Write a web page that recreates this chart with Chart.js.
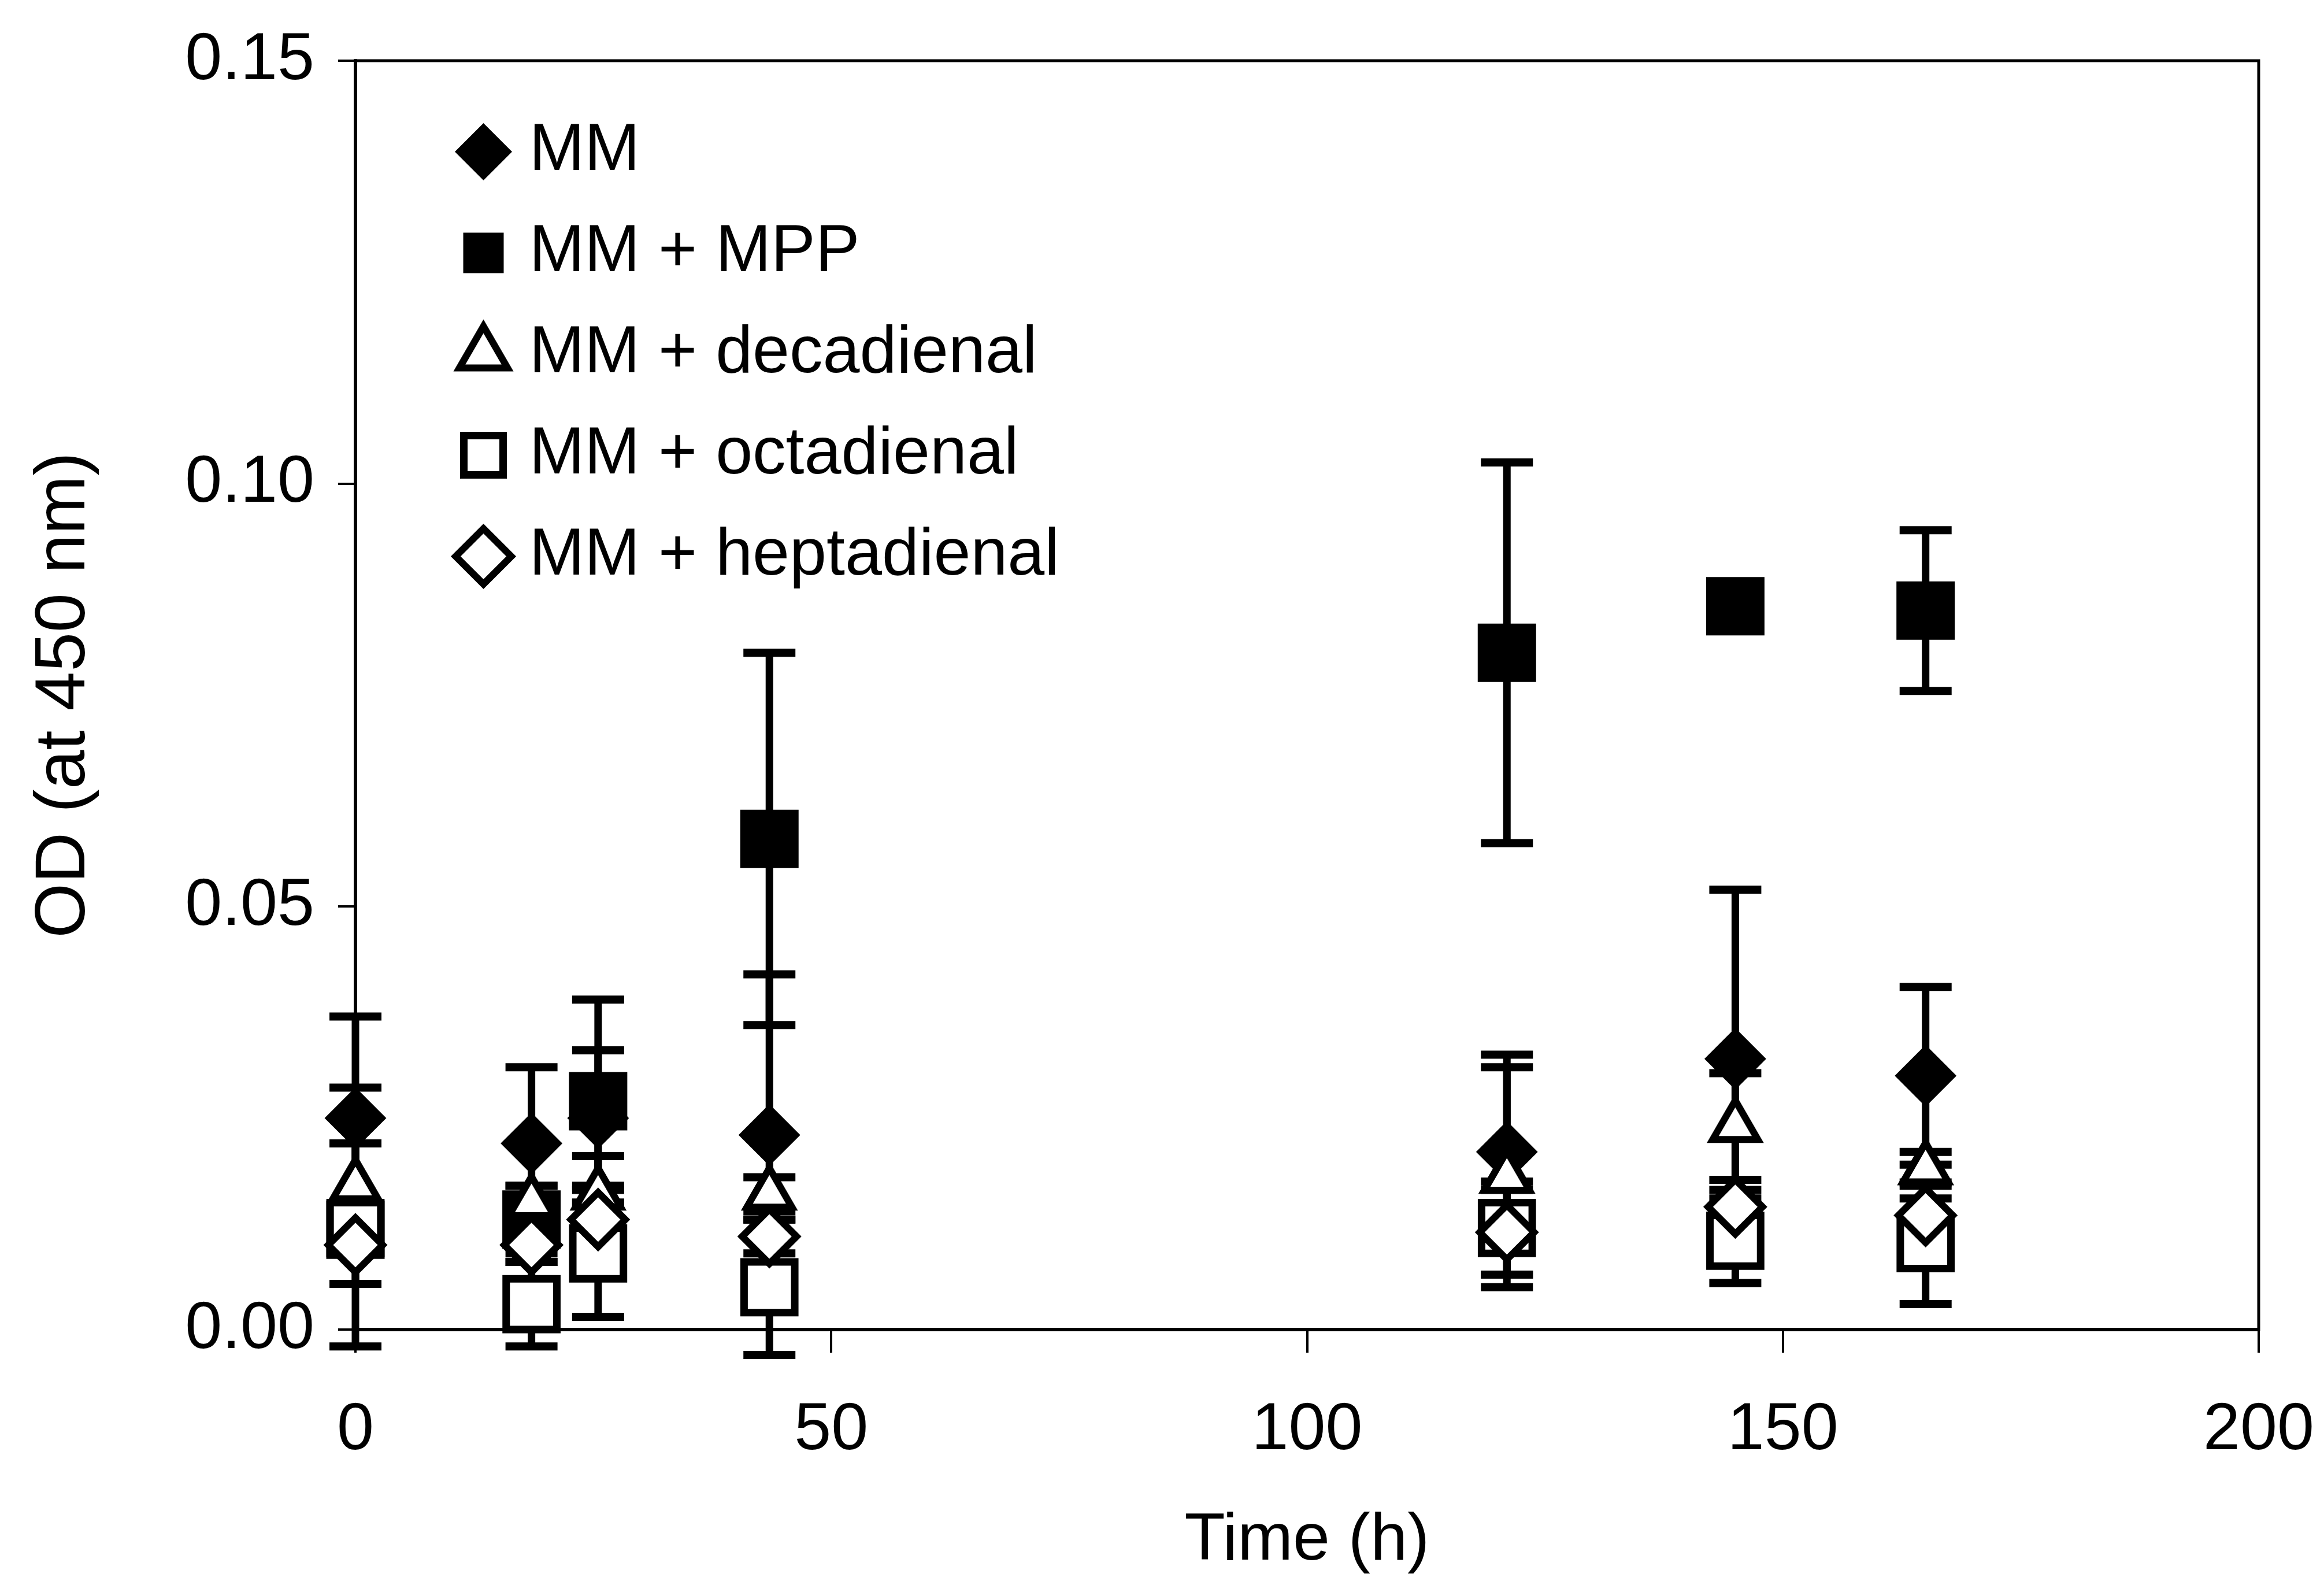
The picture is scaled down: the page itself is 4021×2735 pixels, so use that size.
<!DOCTYPE html>
<html lang="en">
<head>
<meta charset="UTF-8">
<title>OD (at 450 nm) over time</title>
<style>
  html, body { margin: 0; padding: 0; background: #fff; }
  #chart { display: block; }
</style>
</head>
<body>
<canvas id="chart" width="4021" height="2735"></canvas>
<script src="https://cdn.jsdelivr.net/npm/chart.js"></script>
<script>
// sampling times (h)
const times = [0, 18.5, 25.5, 43.5, 121, 145, 165];

// mean OD and error per medium
const mm        = [0.025, 0.022, 0.025, 0.023, 0.021, 0.032, 0.030];
const mmErr     = [0.012, 0.009, 0.008, 0.019, 0.0115, 0.020, 0.0105];
const mpp       = [0.0118, 0.013, 0.027, 0.058, 0.080, 0.0855, 0.085];
const mppErr    = [0.002, 0.004, 0.012, 0.022, 0.0225, 0.001, 0.0095];
const deca      = [0.017, 0.015, 0.016, 0.016, 0.018, 0.024, 0.019];
const decaErr   = [0.0116, 0.002, 0.0045, 0.002, 0.013, 0.0063, 0.002];
const octa      = [0.012, 0.003, 0.009, 0.005, 0.012, 0.0105, 0.0102];
const octaErr   = [0.003, 0.005, 0.0075, 0.008, 0.0055, 0.005, 0.0072];
const hepta     = [0.010, 0.010, 0.013, 0.011, 0.0115, 0.0145, 0.0135];
const heptaErr  = [0.012, 0.002, 0.002, 0.002, 0.005, 0.002, 0.002];

const seriesNames = ['MM', 'MM + MPP', 'MM + decadienal', 'MM + octadienal', 'MM + heptadienal'];
const yTicks = [0, 0.05, 0.10, 0.15];
const xTicks = [0, 50, 100, 150, 200];

const values = [mm, mpp, deca, octa, hepta];
const errors = [mmErr, mppErr, decaErr, octaErr, heptaErr];

// marker look for each series
const markers = [
  { style: 'rectRot',  radius: 52, fill: '#000', border: 2 },
  { style: 'rect',     radius: 70, fill: '#000', border: 2 },
  { style: 'triangle', radius: 45, fill: '#fff', border: 12 },
  { style: 'rect',     radius: 62, fill: '#fff', border: 13 },
  { style: 'rectRot',  radius: 47, fill: '#fff', border: 12 }
];

const FONT = 'Liberation Sans, Arial, sans-serif';

// error bars go under all markers, like the original plot
const errorBars = {
  id: 'errorBars',
  beforeDatasetsDraw(chart) {
    const { ctx, scales: { x, y } } = chart;
    ctx.save();
    ctx.strokeStyle = '#000';
    chart.data.datasets.forEach((ds, i) => {
      ds.data.forEach((p, j) => {
        const e = errors[i][j];
        if (!e) return;
        const px = x.getPixelForValue(p.x);
        const top = y.getPixelForValue(p.y + e);
        const bot = y.getPixelForValue(p.y - e);
        ctx.lineWidth = 13;
        ctx.beginPath();
        ctx.moveTo(px, top);
        ctx.lineTo(px, bot);
        ctx.stroke();
        ctx.lineWidth = 14;
        ctx.beginPath();
        ctx.moveTo(px - 45, top); ctx.lineTo(px + 45, top);
        ctx.moveTo(px - 45, bot); ctx.lineTo(px + 45, bot);
        ctx.stroke();
      });
    });
    // box round the plot
    const a = chart.chartArea;
    ctx.lineWidth = 5;
    ctx.strokeRect(a.left, a.top, a.right - a.left, a.bottom - a.top);
    ctx.restore();
  }
};

// move the legend to the upper left inside the plot
const legendPlace = {
  id: 'legendPlace',
  afterLayout(chart) {
    const lg = chart.legend;
    const a = chart.chartArea;
    lg.left = a.left + 140;
    lg.top = a.top + 40;
    lg.bottom = a.bottom;
    lg.right = a.right;
  }
};

const datasets = values.map((v, i) => ({
  label: seriesNames[i],
  data: times.map((t, j) => ({ x: t, y: v[j] })),
  pointStyle: markers[i].style,
  pointRadius: markers[i].radius,
  pointHoverRadius: markers[i].radius,
  backgroundColor: markers[i].fill,
  borderColor: '#000',
  pointBorderWidth: markers[i].border,
  borderWidth: markers[i].border,
  showLine: false,
  clip: false,
  order: values.length - i
}));

new Chart(document.getElementById('chart'), {
  type: 'scatter',
  data: { datasets },
  plugins: [errorBars, legendPlace],
  options: {
    responsive: false,
    animation: false,
    layout: { padding: { top: 105, right: 113, left: 0, bottom: 0 } },
    plugins: {
      tooltip: { enabled: false },
      legend: {
        position: 'chartArea',
        align: 'start',
        labels: {
          usePointStyle: true,
          boxWidth: 43,
          boxHeight: 68,
          padding: 60,
          color: '#000',
          font: { family: FONT, size: 115 },
          sort: (a, b) => a.datasetIndex - b.datasetIndex
        }
      }
    },
    scales: {
      x: {
        type: 'linear',
        min: xTicks[0],
        max: xTicks[xTicks.length - 1],
        afterBuildTicks(s) { s.ticks = xTicks.map(v => ({ value: v })); },
        ticks: { color: '#000', font: { family: FONT, size: 115 }, padding: 66, maxRotation: 0 },
        grid: { drawOnChartArea: false, drawTicks: true, tickLength: 40, color: '#000', lineWidth: 4 },
        border: { display: true, color: '#000', width: 6 },
        title: {
          display: true, text: 'Time (h)', color: '#000',
          font: { family: FONT, size: 115 }, padding: { top: 0, bottom: 0 }
        },
        afterFit(s) {
          s.height = 435;
          s.paddingLeft = 0;
          s.paddingRight = 0;
        }
      },
      y: {
        type: 'linear',
        min: yTicks[0],
        max: yTicks[yTicks.length - 1],
        afterBuildTicks(s) { s.ticks = yTicks.map(v => ({ value: v })); },
        ticks: {
          color: '#000', font: { family: FONT, size: 115 }, padding: 41,
          callback: v => Number(v).toFixed(2)
        },
        grid: { drawOnChartArea: false, drawTicks: true, tickLength: 30, color: '#000', lineWidth: 4 },
        border: { display: true, color: '#000', width: 6 },
        title: {
          display: true, text: 'OD (at 450 nm)', color: '#000',
          font: { family: FONT, size: 122 }, padding: { top: 39, bottom: 0 }
        },
        afterFit(s) {
          s.width = 615;
          s.paddingTop = 0;
          s.paddingBottom = 0;
        }
      }
    }
  }
});
</script>
</body>
</html>
